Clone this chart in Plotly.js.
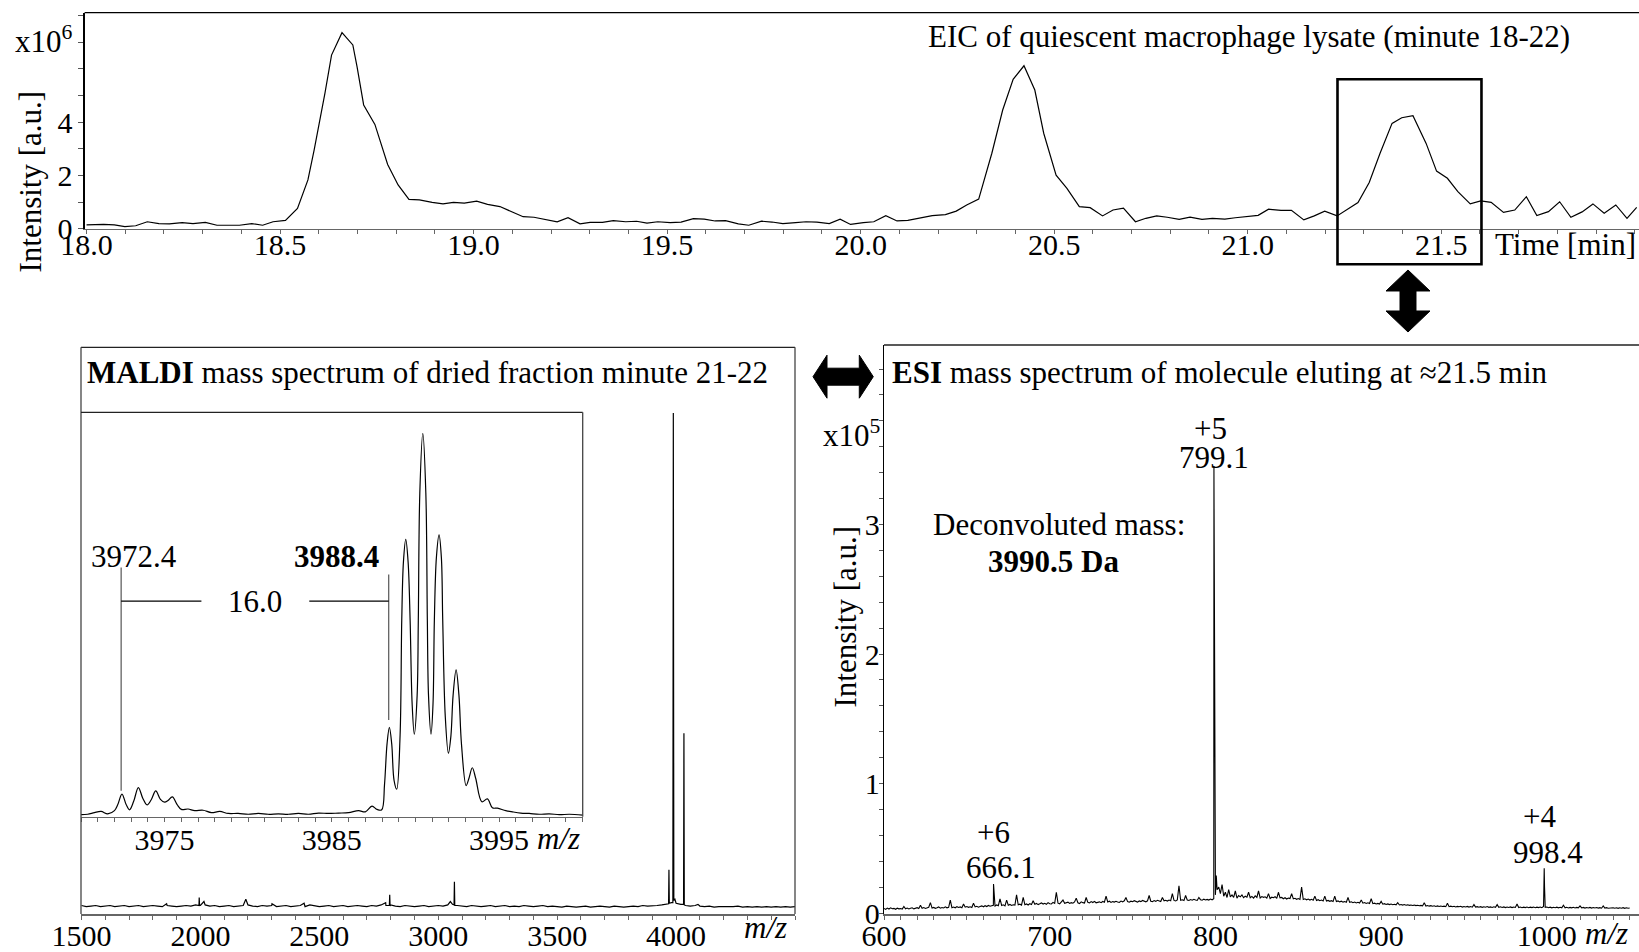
<!DOCTYPE html>
<html><head><meta charset="utf-8">
<script src="https://cdn.plot.ly/plotly-3.0.1.min.js"></script>
<style>html,body{margin:0;padding:0;background:#fff;}#chart{width:1639px;height:952px;}</style>
</head><body><div id="chart"></div>
<script>
// ===== EIC (top panel), intensity in x10^6 =====
const eicTime = [18.000,18.044,18.072,18.099,18.127,18.157,18.187,18.214,18.247,18.275,18.307,18.337,18.367,18.395,18.427,18.455,18.482,
 18.514,18.545,18.572,18.588,18.602,18.616,18.633,18.660,18.688,18.699,18.716,18.745,18.778,18.805,18.833,18.860,18.893,18.921,18.948,18.976,19.008,19.036,19.068,19.096,19.128,19.156,19.188,19.216,
 19.244,19.275,19.301,19.333,19.361,19.393,19.421,19.448,19.476,19.508,19.536,19.568,19.596,19.624,19.651,19.684,19.711,19.744,19.771,19.799,19.832,19.859,19.887,19.919,19.947,19.974,
 20.007,20.034,20.065,20.094,20.122,20.155,20.185,20.219,20.247,20.274,20.305,20.339,20.367,20.394,20.422,20.450,20.473,20.505,20.533,20.565,20.593,
 20.625,20.652,20.679,20.710,20.737,20.765,20.792,20.823,20.851,20.882,20.909,20.941,20.968,20.999,21.027,21.054,21.086,21.113,21.145,21.172,21.199,21.231,
 21.258,21.285,21.314,21.342,21.373,21.398,21.427,21.461,21.488,21.516,21.543,21.575,21.602,21.629,21.661,21.690,21.720,21.747,21.777,21.806,21.835,21.864,21.892,21.921,21.951,21.980,22.005];
const eicIntensity = [0.14,0.16,0.14,0.08,0.11,0.26,0.19,0.18,0.23,0.19,0.24,0.13,0.13,0.13,0.19,0.13,0.26,
 0.31,0.76,1.83,2.95,3.95,5.08,6.51,7.35,6.89,6.07,4.64,3.91,2.41,1.64,1.10,1.08,0.99,0.93,0.99,0.96,1.03,0.91,0.83,0.64,0.45,0.43,0.33,0.26,
 0.41,0.18,0.24,0.24,0.30,0.26,0.28,0.21,0.26,0.23,0.25,0.38,0.36,0.29,0.30,0.18,0.13,0.28,0.25,0.19,0.23,0.26,0.25,0.19,0.36,0.16,
 0.23,0.26,0.49,0.29,0.31,0.41,0.49,0.53,0.66,0.89,1.11,2.83,4.45,5.60,6.11,5.20,3.58,2.01,1.51,0.83,0.79,
 0.48,0.70,0.77,0.26,0.39,0.48,0.43,0.35,0.43,0.35,0.39,0.36,0.41,0.45,0.50,0.73,0.69,0.69,0.33,0.48,0.66,0.48,
 0.73,0.98,1.73,2.83,3.95,4.16,4.24,3.20,2.16,1.89,1.39,0.93,1.04,0.99,0.61,0.70,1.20,0.49,0.64,1.01,0.43,0.63,0.93,0.58,0.89,0.39,0.80];
const eicTicks = [18, 18.5, 19, 19.5, 20, 20.5, 21, 21.5];
const eicTickLabels = ['18.0','18.5','19.0','19.5','20.0','20.5','21.0','21.5'];
const eicYTicks = [0, 2, 4];
const eicBoxTimes = [21.232, 21.604];

// ===== MALDI full spectrum (relative intensity) =====
const maldiBaseStart = 1500, maldiBaseStep = 20;
const maldiBaseIntensity = [
 1.5,1.3,1.4,1.5,1.3, 1.4,1.5,1.3,1.4,1.5, 1.3,1.4,1.5,1.3,1.4, 1.5,1.4,1.3,1.5,1.4,
 1.3,1.4,1.5,1.4,1.6, 1.5,1.6,1.4,1.5,1.3, 1.4,1.5,1.3,1.4,1.5, 1.6,1.4,1.3,1.5,1.4,
 1.5,1.3,1.4,1.5,1.3, 1.4,1.5,1.3,1.6,1.4, 1.3,1.4,1.5,1.3,1.4, 1.5,1.3,1.4,1.5,1.4,
 1.3,1.5,1.4,1.6,1.5, 1.6,1.4,1.3,1.5,1.4, 1.3,1.4,1.5,1.3,1.4, 1.5,1.4,1.6,1.7,1.5,
 1.4,1.3,1.5,1.4,1.3, 1.4,1.5,1.3,1.4,1.5, 1.3,1.4,1.3,1.5,1.4, 1.3,1.4,1.5,1.3,1.4,
 1.3,1.2,1.4,1.3,1.2, 1.3,1.4,1.2,1.3,1.4, 1.3,1.2,1.4,1.3,1.2, 1.3,1.4,1.3,1.5,1.4,
 1.4,1.5,1.6,1.8,2.0, 1.9,1.7,1.5,1.4,1.5, 1.4,1.3,1.4,1.2,1.3, 1.3,1.2,1.3,1.4,1.2,
 1.3,1.2,1.3,1.2,1.3, 1.2,1.3,1.2,1.3,1.2, 1.3];
const maldiPeakMz = [1858, 1994, 1995, 1996.5, 2015, 2191, 2301, 2436, 2779, 2794.5, 2796, 2797.5, 3051, 3066.5, 3068, 3069.5,
 3956, 3968.5, 3970, 3971.5, 3986.5, 3988.4, 3990.5, 3995, 4031.5, 4033, 4034.5, 4092];
const maldiPeakIntensity = [1.8, 1.5, 2.9, 1.5, 2.2, 2.6, 1.8, 1.9, 2.0, 1.5, 3.4, 1.4, 2.2, 1.6, 5.7, 1.5,
 1.7, 1.8, 7.8, 1.9, 2.0, 88.4, 2.4, 2.6, 1.7, 31.9, 1.6, 1.7];
const maldiTicks = [1500, 2000, 2500, 3000, 3500, 4000];

// ===== MALDI inset (zoom 3970-4000) =====
const insetMz = [3970.0,3970.4,3970.8,3971.2,3971.6,3972.0,3972.2,3972.45,3972.7,3972.9,3973.15,3973.43,3973.7,3973.95,3974.2,3974.47,3974.75,3975.0,3975.2,3975.46,3975.75,3976.0,3976.4,3976.8,3977.3,3977.8,3978.3,3978.8,3979.4,3980.0,3980.6,3981.2,3981.8,3982.4,3983.0,3983.6,3984.2,3984.8,3985.4,3986.0,3986.6,3987.0,3987.4,3987.7,3987.98,3988.15,3988.3,3988.44,3988.58,3988.72,3988.88,3989.08,3989.18,3989.28,3989.42,3989.56,3989.68,3989.8,3989.93,3990.1,3990.17,3990.26,3990.44,3990.62,3990.71,3990.78,3990.93,3991.05,3991.13,3991.25,3991.41,3991.55,3991.63,3991.78,3991.97,3992.12,3992.25,3992.43,3992.6,3992.75,3993.03,3993.2,3993.4,3993.6,3993.97,3994.3,3994.6,3994.9,3995.4,3995.8,3996.3,3996.8,3997.4,3998.0,3998.6,3999.2,4000.0];
const insetIntensity = [0.5,0.6,1.0,1.3,0.7,1.5,3.0,5.6,3.0,1.7,3.8,7.2,4.5,2.9,4.2,6.4,4.3,3.6,4.0,4.9,3.0,1.8,1.9,1.5,1.6,1.0,1.3,0.8,0.8,0.6,0.8,0.6,0.7,0.6,0.8,0.6,0.9,0.8,0.9,1.0,1.5,1.2,2.6,1.8,1.7,8,18,22.1,18,9,6.8,20,48.6,63,68.6,63,48.6,28,20.4,30,48.6,80,94.8,80,48.6,30,20.4,28,48.6,64,69.7,64,48.6,25,15.7,20,30,36.3,30,18,7.7,9.5,12.1,9.5,3.7,4.4,2.2,2.1,1.5,1.2,0.9,0.8,0.6,0.7,0.5,0.6,0.4];
const insetTicks = [3975, 3985, 3995];
const insetLabelMz = [3972.4, 3988.4];

// ===== ESI spectrum, intensity in x10^5 (baseline sampled every 1 m/z from 600) =====
const esiBaseStart = 600, esiBaseStep = 1;
const esiBaseIntensity = [
 .035,.028,.038,.031,.040,.033,.036,.029,.037,.032,
 .034,.030,.050,.033,.038,.031,.036,.040,.032,.037,
 .041,.034,.060,.036,.042,.035,.039,.044,.080,.038,
 .043,.036,.040,.047,.037,.042,.039,.048,.040,.044,
 .100,.041,.046,.040,.049,.043,.047,.041,.070,.045,
 .050,.044,.048,.043,.075,.047,.052,.045,.050,.055,
 .048,.056,.050,.058,.052,.057,.060,.054,.062,.056,
 .110,.058,.063,.055,.100,.060,.066,.058,.064,.061,
 .140,.063,.068,.060,.120,.064,.070,.062,.072,.066,
 .095,.068,.074,.065,.071,.078,.069,.075,.067,.080,
 .072,.070,.082,.074,.160,.076,.071,.083,.100,.075,
 .078,.084,.074,.080,.076,.085,.115,.079,.073,.086,
 .080,.077,.120,.082,.078,.088,.081,.090,.079,.084,
 .086,.080,.089,.083,.130,.085,.091,.082,.088,.084,
 .090,.085,.082,.092,.086,.094,.120,.088,.083,.091,
 .087,.095,.089,.084,.093,.088,.097,.090,.086,.094,
 .135,.091,.088,.096,.090,.098,.093,.089,.120,.094,
 .098,.092,.100,.095,.150,.097,.093,.101,.210,.098,
 .102,.096,.135,.100,.097,.104,.099,.106,.101,.097,
 .120,.103,.099,.107,.101,.105,.100,.108,.102,.110,
 .140,.180,.200,.150,.220,.130,.160,.120,.180,.125,
 .140,.120,.170,.115,.135,.125,.140,.118,.130,.122,
 .160,.118,.128,.115,.132,.120,.170,.116,.127,.121,
 .125,.115,.150,.112,.122,.118,.126,.113,.160,.117,
 .120,.110,.118,.108,.115,.112,.150,.109,.114,.106,
 .112,.105,.200,.104,.110,.102,.108,.100,.106,.099,
 .130,.097,.103,.095,.100,.093,.130,.092,.097,.090,
 .095,.089,.130,.088,.093,.086,.091,.084,.089,.083,
 .120,.082,.087,.080,.085,.078,.083,.077,.100,.076,
 .081,.074,.079,.073,.110,.072,.076,.070,.074,.069,
 .090,.068,.072,.066,.070,.065,.069,.064,.067,.063,
 .080,.062,.066,.061,.065,.060,.063,.059,.062,.058,
 .061,.057,.060,.056,.059,.055,.080,.054,.058,.053,
 .057,.052,.056,.051,.055,.050,.054,.050,.053,.049,
 .075,.049,.053,.048,.052,.047,.051,.048,.052,.046,
 .050,.047,.051,.046,.050,.045,.065,.046,.049,.045,
 .049,.044,.048,.045,.050,.044,.047,.043,.048,.044,
 .065,.044,.048,.043,.047,.042,.046,.043,.047,.042,
 .046,.043,.070,.042,.046,.041,.045,.042,.046,.041,
 .045,.042,.046,.041,.045,.042,.046,.041,.050,.044,
 .046,.041,.045,.040,.044,.041,.045,.040,.044,.040,
 .060,.040,.044,.039,.043,.040,.044,.039,.043,.040,
 .055,.039,.043,.038,.042,.039,.043,.038,.042,.039,
 .042,.038,.041,.037,.055,.038,.041,.037,.040,.038,
 .041,.037,.040,.036,.040,.037,.041,.036,.040,.037,
 .039];
const esiPeakMz = [666.1, 799.1, 799.3, 799.5, 799.7, 800.5, 998.4, 998.6];
const esiPeakIntensity = [0.224, 3.45, 2.12, 0.93, 0.40, 0.29, 0.345, 0.20];
const esiTicks = [600, 700, 800, 900, 1000];
const esiYTicks = [0, 1, 2, 3];

// ---------- helpers ----------
const W = 1639, H = 952;
const X = px => px / W;
const Y = py => 1 - py / H;
function merge(baseStart, baseStep, baseVals, pkX, pkY) {
  const pts = baseVals.map((v, i) => [baseStart + i * baseStep, v]);
  pkX.forEach((x, i) => pts.push([x, pkY[i]]));
  pts.sort((a, b) => a[0] - b[0]);
  return {x: pts.map(p => p[0]), y: pts.map(p => p[1])};
}
const maldi = merge(maldiBaseStart, maldiBaseStep, maldiBaseIntensity, maldiPeakMz, maldiPeakIntensity);
const esi = merge(esiBaseStart, esiBaseStep, esiBaseIntensity, esiPeakMz, esiPeakIntensity);

const FONT = 'Liberation Serif, Times New Roman, serif';
const tickFont = {family: FONT, size: 30, color: '#000'};
const txt = 31;
const AX = '#666';

const traces = [
  {x: eicTime, y: eicIntensity, xaxis: 'x', yaxis: 'y', mode: 'lines', line: {color: '#000', width: 1.2}, hoverinfo: 'skip'},
  {x: insetMz, y: insetIntensity, xaxis: 'x2', yaxis: 'y2', mode: 'lines', line: {color: '#000', width: 1.2, shape: 'spline', smoothing: 1}, hoverinfo: 'skip'},
  {x: maldi.x, y: maldi.y, xaxis: 'x3', yaxis: 'y3', mode: 'lines', line: {color: '#000', width: 1.2}, hoverinfo: 'skip'},
  {x: esi.x, y: esi.y, xaxis: 'x4', yaxis: 'y4', mode: 'lines', line: {color: '#000', width: 1.1}, hoverinfo: 'skip'}
];

function xAx(domain, range, anchor, tickvals, ticktext, minorDtick, minorTick0, standoff) {
  return {domain, range, anchor, showline: true, linecolor: AX, linewidth: 1.5,
    ticks: 'outside', ticklen: 4, tickwidth: 1, tickcolor: AX, tickmode: 'array', tickvals, ticktext,
    tickfont: tickFont, showgrid: false, zeroline: false, fixedrange: true, ticklabelstandoff: standoff,
    minor: {tick0: minorTick0, dtick: minorDtick, ticks: 'outside', ticklen: 4, tickwidth: 1, tickcolor: AX}};
}

const layout = {
  width: W, height: H, margin: {l: 0, r: 0, t: 0, b: 0},
  paper_bgcolor: '#fff', plot_bgcolor: 'rgba(0,0,0,0)', showlegend: false,
  font: {family: FONT, size: txt, color: '#000'},
  xaxis: xAx([X(84.6), 1], [17.995, 22.011], 'y', eicTicks, eicTickLabels, 0.1, 18, -15),
  yaxis: {domain: [Y(228.7), Y(12.7)], range: [0, 8.1], anchor: 'x', showline: true, linecolor: '#000', linewidth: 1.2,
    ticks: 'outside', ticklen: 5, tickcolor: '#555', tickmode: 'array', tickvals: eicYTicks, tickfont: tickFont,
    showgrid: false, zeroline: false, fixedrange: true,
    minor: {tick0: 0, dtick: 1, ticks: 'outside', ticklen: 5, tickcolor: '#555'}},
  xaxis2: xAx([X(81), X(582.7)], [3970, 4000], 'y2', insetTicks, insetTicks.map(String), 1, 3970, -8),
  yaxis2: {domain: [Y(816.7), Y(412.3)], range: [0, 100], anchor: 'x2', visible: false, fixedrange: true},
  xaxis3: xAx([X(81), X(795)], [1498, 4500], 'y3', maldiTicks, maldiTicks.map(String), 100, 1500, -10),
  yaxis3: {domain: [Y(914), Y(347.3)], range: [0, 100], anchor: 'x3', visible: false, fixedrange: true},
  xaxis4: xAx([X(884), 1], [600, 1055.6], 'y4', esiTicks, esiTicks.map(String), 10, 600, -10),
  yaxis4: {domain: [Y(914), Y(345)], range: [-0.0077, 4.386], anchor: 'x4', showline: true, linecolor: '#000', linewidth: 1.2,
    ticks: 'outside', ticklen: 4, tickcolor: '#555', tickmode: 'array', tickvals: esiYTicks, tickfont: tickFont,
    showgrid: false, zeroline: false, fixedrange: true, ticklabelstandoff: -7,
    minor: {tick0: 0, dtick: 0.2, ticks: 'outside', ticklen: 4, tickcolor: '#555'}},
  shapes: [],
  annotations: []
};

const border = (xr, yr, x0, y0, x1, y1, color) => ({type: 'line', xref: xr, yref: yr, x0, y0, x1, y1, line: {color: color || '#222', width: 1.3}});
layout.shapes.push(
  border('x domain', 'y domain', 0, 1, 1, 1, '#000'),
  border('x3 domain', 'y3 domain', 0, 1, 1, 1), border('x3 domain', 'y3 domain', 0, 0, 0, 1, '#444'), border('x3 domain', 'y3 domain', 1, 0, 1, 1, '#444'),
  border('x2 domain', 'y2 domain', 0, 1, 1, 1), border('x2 domain', 'y2 domain', 1, 0, 1, 1, '#444'),
  border('x4 domain', 'y4 domain', 0, 1, 1, 1)
);
// highlighted retention-time window
layout.shapes.push({type: 'rect', xref: 'x', yref: 'paper', x0: eicBoxTimes[0], x1: eicBoxTimes[1], y0: Y(264.3), y1: Y(79.3),
  line: {color: '#000', width: 2.6}, fillcolor: 'rgba(0,0,0,0)'});
// 16.0 bracket in inset
const gl = {color: '#555', width: 1.2};
layout.shapes.push(
  {type: 'line', xref: 'x2', yref: 'y2', x0: insetLabelMz[0], x1: insetLabelMz[0], y0: 6.4, y1: 61.6, line: gl},
  {type: 'line', xref: 'x2', yref: 'y2', x0: insetLabelMz[1], x1: insetLabelMz[1], y0: 23.9, y1: 59.9, line: gl},
  {type: 'line', xref: 'x2', yref: 'y2', x0: insetLabelMz[0], x1: 3977.2, y0: 53.3, y1: 53.3, line: {color: '#000', width: 1.2}},
  {type: 'line', xref: 'x2', yref: 'y2', x0: 3983.65, x1: insetLabelMz[1], y0: 53.3, y1: 53.3, line: {color: '#000', width: 1.2}}
);
// arrows
function pathPx(pts) { return 'M' + pts.map(p => X(p[0]).toFixed(5) + ',' + Y(p[1]).toFixed(5)).join(' L') + ' Z'; }
layout.shapes.push(
  {type: 'path', xref: 'paper', yref: 'paper', fillcolor: '#000', line: {color: '#000', width: 1},
   path: pathPx([[1408,270],[1430,291],[1416,291],[1416,311],[1430,311],[1408,332],[1386,311],[1400,311],[1400,291],[1386,291]])},
  {type: 'path', xref: 'paper', yref: 'paper', fillcolor: '#000', line: {color: '#000', width: 1},
   path: pathPx([[813,376.7],[827,355.2],[827,368.2],[859.3,368.2],[859.3,355.2],[873.3,376.7],[859.3,398.2],[859.3,385.2],[827,385.2],[827,398.2]])}
);

const ann = (text, x, y, o) => Object.assign({text, x, y, xref: 'paper', yref: 'paper', showarrow: false,
  xanchor: 'center', yanchor: 'middle', font: {family: FONT, size: txt, color: '#000'}}, o || {});
layout.annotations.push(
  ann('EIC of quiescent macrophage lysate (minute 18-22)', X(1248.5), Y(37)),
  ann('x10<sup>6</sup>', X(13), Y(40), {xanchor: 'left'}),
  ann('Intensity [a.u.]', X(30), Y(181.5), {textangle: -90}),
  ann('Time [min]', X(1493), Y(245), {xanchor: 'left'}),
  ann('<b>MALDI</b> mass spectrum of dried fraction minute 21-22', X(85), Y(373), {xanchor: 'left'}),
  ann('<i>m/z</i>', X(765), Y(927)),
  ann('<i>m/z</i>', X(558), Y(838)),
  ann('3972.4', 3973.15, 64.3, {xref: 'x2', yref: 'y2'}),
  ann('<b>3988.4</b>', 3985.25, 64.3, {xref: 'x2', yref: 'y2'}),
  ann('16.0', 3980.4, 53.3, {xref: 'x2', yref: 'y2'}),
  ann('<b>ESI</b> mass spectrum of molecule eluting at \u224821.5 min', X(890), Y(373), {xanchor: 'left'}),
  ann('x10<sup>5</sup>', X(821), Y(434), {xanchor: 'left'}),
  ann('Intensity [a.u.]', X(845), Y(616.5), {textangle: -90}),
  ann('<i>m/z</i>', X(1606), Y(933)),
  ann('+5', 797, 3.743, {xref: 'x4', yref: 'y4'}),
  ann('799.1', 799.2, 3.52, {xref: 'x4', yref: 'y4'}),
  ann('Deconvoluted mass:', 705.6, 3.0, {xref: 'x4', yref: 'y4'}),
  ann('<b>3990.5 Da</b>', 702, 2.713, {xref: 'x4', yref: 'y4'}),
  ann('+6', 666, 0.625, {xref: 'x4', yref: 'y4'}),
  ann('666.1', 670.5, 0.351, {xref: 'x4', yref: 'y4'}),
  ann('+4', 995.3, 0.745, {xref: 'x4', yref: 'y4'}),
  ann('998.4', 1000.9, 0.47, {xref: 'x4', yref: 'y4'})
);

Plotly.newPlot('chart', traces, layout, {staticPlot: true, displayModeBar: false});
</script>
</body></html>
